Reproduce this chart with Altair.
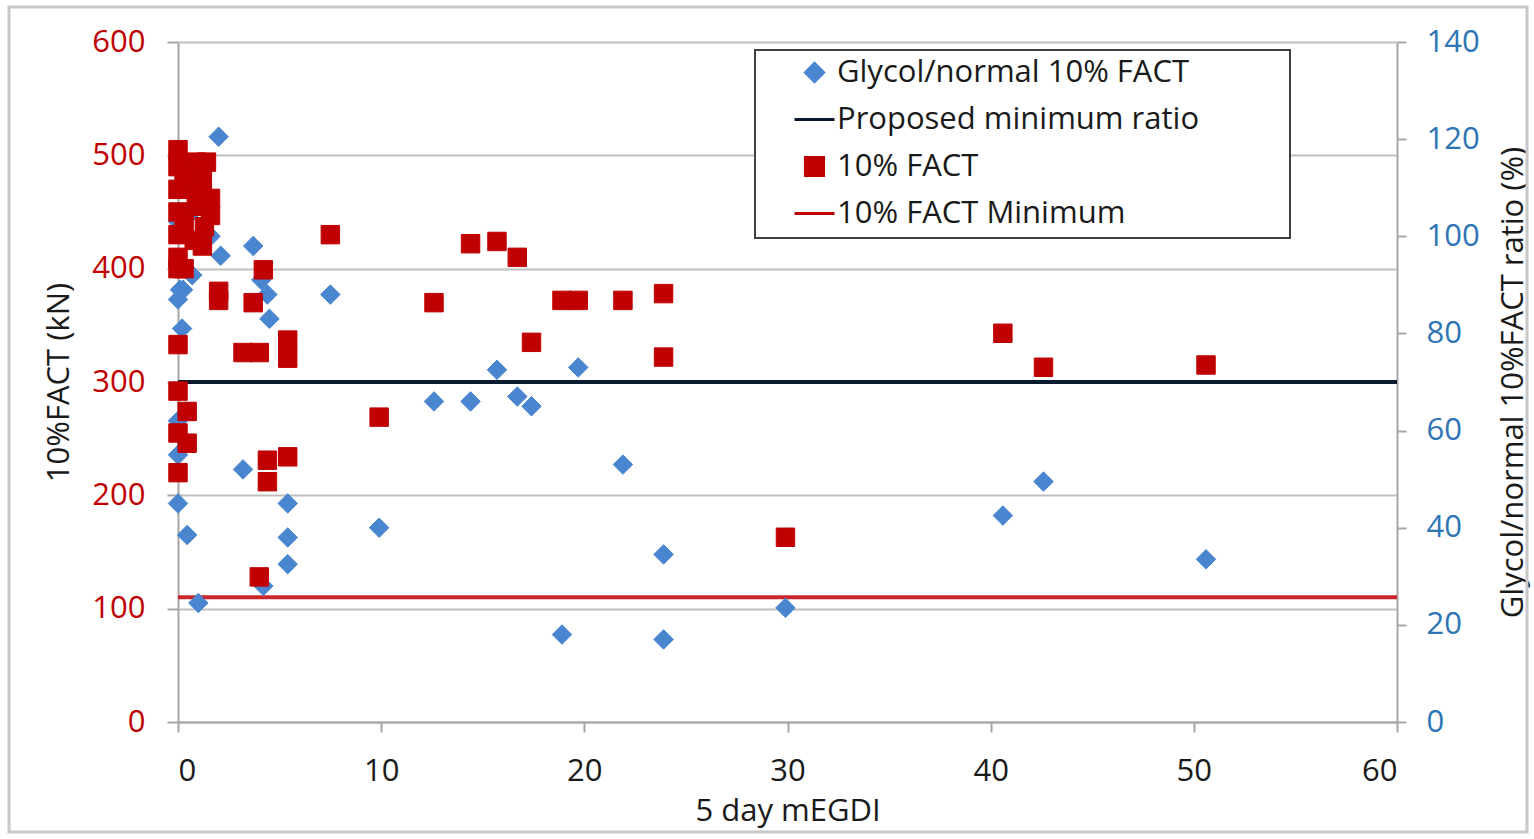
import altair as alt
import pandas as pd

# ---------------- data ----------------
# 10% FACT (kN), left axis
sq_x = [0, 0, 0, 0, 0, 0, 0, 0.3, 0.3, 0.3, 0.9, 0.9, 0.9, 0.8, 1.4, 1.2, 1.6, 1.6, 1.2, 1.3,
        0, 0, 0.45, 0, 0.45, 0, 2.0, 2.0,
        3.2, 4.0, 5.4, 5.4, 4.2, 3.7, 4.4, 5.4, 4.4, 4.0,
        7.5, 9.9, 12.6, 14.4, 15.7, 16.7, 17.4, 18.9, 19.7, 21.9, 23.9, 23.9, 29.9, 40.6, 42.6, 50.6]
sq_y = [505, 490, 470, 450, 430, 410, 400, 480, 440, 400, 494, 470, 455, 425, 494, 478, 462, 447, 420, 437,
        333, 292, 274, 255, 246, 220, 380, 372,
        326, 326, 337, 321, 399, 370, 231, 234, 212, 128,
        430, 269, 370, 422, 424, 410, 335, 372, 372, 372, 378, 322, 163, 343, 313, 315]

# Glycol/normal 10% FACT ratio (%), right axis
di_x = [0, 0.7, 1.6, 2.0, 2.1, 0.7, 0.1, 0.25, 0, 0.2, 0, 0, 0, 0.45, 1.0,
        3.7, 4.1, 4.4, 4.5, 7.5, 3.2, 5.4, 5.4, 5.4, 4.2,
        9.9, 12.6, 14.4, 15.7, 16.7, 17.4, 18.9, 19.7, 21.9, 23.9, 23.9, 29.9, 40.6, 42.6, 50.6]
di_y = [103, 105, 100, 120.5, 96, 92, 89, 89, 87, 81, 62, 55, 45, 38.5, 24.5,
        98, 91, 88, 83, 88, 52, 45, 38, 32.5, 28,
        40, 66, 66, 72.5, 67, 65, 18, 73, 53, 34.5, 17, 23.5, 42.5, 49.5, 33.5]

series_names = ["Glycol/normal 10% FACT", "Proposed minimum ratio", "10% FACT", "10% FACT Minimum"]
min_ratio = [70]
min_fact = [110]

x_ticks = [0, 10, 20, 30, 40, 50, 60]
left_ticks = [0, 100, 200, 300, 400, 500, 600]
right_ticks = [0, 20, 40, 60, 80, 100, 120, 140]

# ---------------- styling ----------------
FONT = "Open Sans"
RED = "#C00000"
BLUE = "#4A86D0"
NAVY = "#0B1A2E"
GRAY = "#A6A6A6"
TXT = "#1a1a1a"
LINE_SHAPE = "M-2.2,0H2.2"   # long horizontal stroke for the line legend entries

squares_df = pd.DataFrame({"x": sq_x, "y": sq_y, "series": "10% FACT"})
diam_df = pd.DataFrame({"x": di_x, "y": di_y, "series": "Glycol/normal 10% FACT"})

legend = alt.Legend(title=None, orient="none", legendX=621, legendY=15, padding=0,
                    labelFont=FONT, labelFontSize=31, labelColor=TXT, labelOffset=7,
                    rowPadding=15, symbolStrokeWidth=3, symbolSize=330, labelLimit=600)

shape_enc = alt.Shape("series:N", scale=alt.Scale(domain=series_names,
                      range=["diamond", LINE_SHAPE, "square", LINE_SHAPE]), legend=legend)
fill_enc = alt.Fill("series:N", scale=alt.Scale(domain=series_names,
                    range=[BLUE, NAVY, RED, RED]), legend=legend)
stroke_enc = alt.Stroke("series:N", scale=alt.Scale(domain=series_names,
                        range=[BLUE, NAVY, RED, RED]), legend=legend)

x_enc = alt.X("x:Q", scale=alt.Scale(domain=[0, 60], nice=False),
              axis=alt.Axis(values=x_ticks, grid=False, domainColor=GRAY, domainWidth=2,
                            tickColor=GRAY, tickWidth=2, tickSize=10,
                            labelFontSize=31, labelColor=TXT, labelPadding=24,
                            title="5 day mEGDI", titleFontSize=31, titleColor=TXT,
                            titleFontWeight="normal", titlePadding=10))

left_scale = alt.Scale(domain=[0, 600], nice=False)
right_scale = alt.Scale(domain=[0, 140], nice=False)

black_rule = alt.Chart(pd.DataFrame({"v": min_ratio})).mark_rule(
    color=NAVY, strokeWidth=4).encode(y=alt.Y("v:Q", scale=right_scale, axis=None))

red_rule = alt.Chart(pd.DataFrame({"v": min_fact})).mark_rule(
    color="#C8262B", strokeWidth=4).encode(y=alt.Y("v:Q", scale=left_scale, axis=None))

diamonds = alt.Chart(diam_df).mark_point(filled=True, opacity=1, strokeWidth=1, size=380).encode(
    x=x_enc,
    y=alt.Y("y:Q", scale=right_scale,
            axis=alt.Axis(orient="right", values=right_ticks, grid=False,
                          domainColor=GRAY, domainWidth=2, tickColor=GRAY, tickWidth=2,
                          tickSize=9, labelFontSize=31, labelColor="#2E75B6", labelPadding=20,
                          title="Glycol/normal 10%FACT ratio (%)", titleFontSize=31,
                          titleColor=TXT, titleFontWeight="normal", titleAngle=270,
                          titlePadding=50)),
    shape=shape_enc, fill=fill_enc, stroke=stroke_enc)

squares = alt.Chart(squares_df).mark_point(filled=True, opacity=1, strokeWidth=1, size=340).encode(
    x=x_enc,
    y=alt.Y("y:Q", scale=left_scale,
            axis=alt.Axis(orient="left", values=left_ticks, grid=True, gridColor="#BFBFBF",
                          gridWidth=2, domainColor=GRAY, domainWidth=2, tickColor=GRAY,
                          tickWidth=2, tickSize=11, labelFontSize=31, labelColor=RED,
                          labelPadding=22, title="10%FACT (kN)", titleFontSize=31,
                          titleColor=TXT, titleFontWeight="normal", titlePadding=16)),
    shape=shape_enc, fill=fill_enc, stroke=stroke_enc)

legend_box = alt.Chart(alt.Data(values=[{}])).mark_rect(
    fill="white", stroke="#404040", strokeWidth=2).encode(
    x=alt.value(577), x2=alt.value(1112), y=alt.value(8), y2=alt.value(196))

frame = alt.Chart(alt.Data(values=[{}])).mark_rect(
    fillOpacity=0, stroke="#C8C8C8", strokeWidth=3).encode(
    x=alt.value(-169), x2=alt.value(1349), y=alt.value(-35), y2=alt.value(790))

chart = alt.layer(frame, legend_box, black_rule, red_rule, diamonds, squares).resolve_scale(
    y="independent"
).properties(
    width=1219, height=680,
    autosize=alt.AutoSizeParams(type="none"),
    padding={"left": 178, "top": 42, "right": 137, "bottom": 117},
    background="white",
).configure(font=FONT).configure_view(stroke=None)

chart.save("out.html", embed_options={"renderer": "svg", "actions": False})
